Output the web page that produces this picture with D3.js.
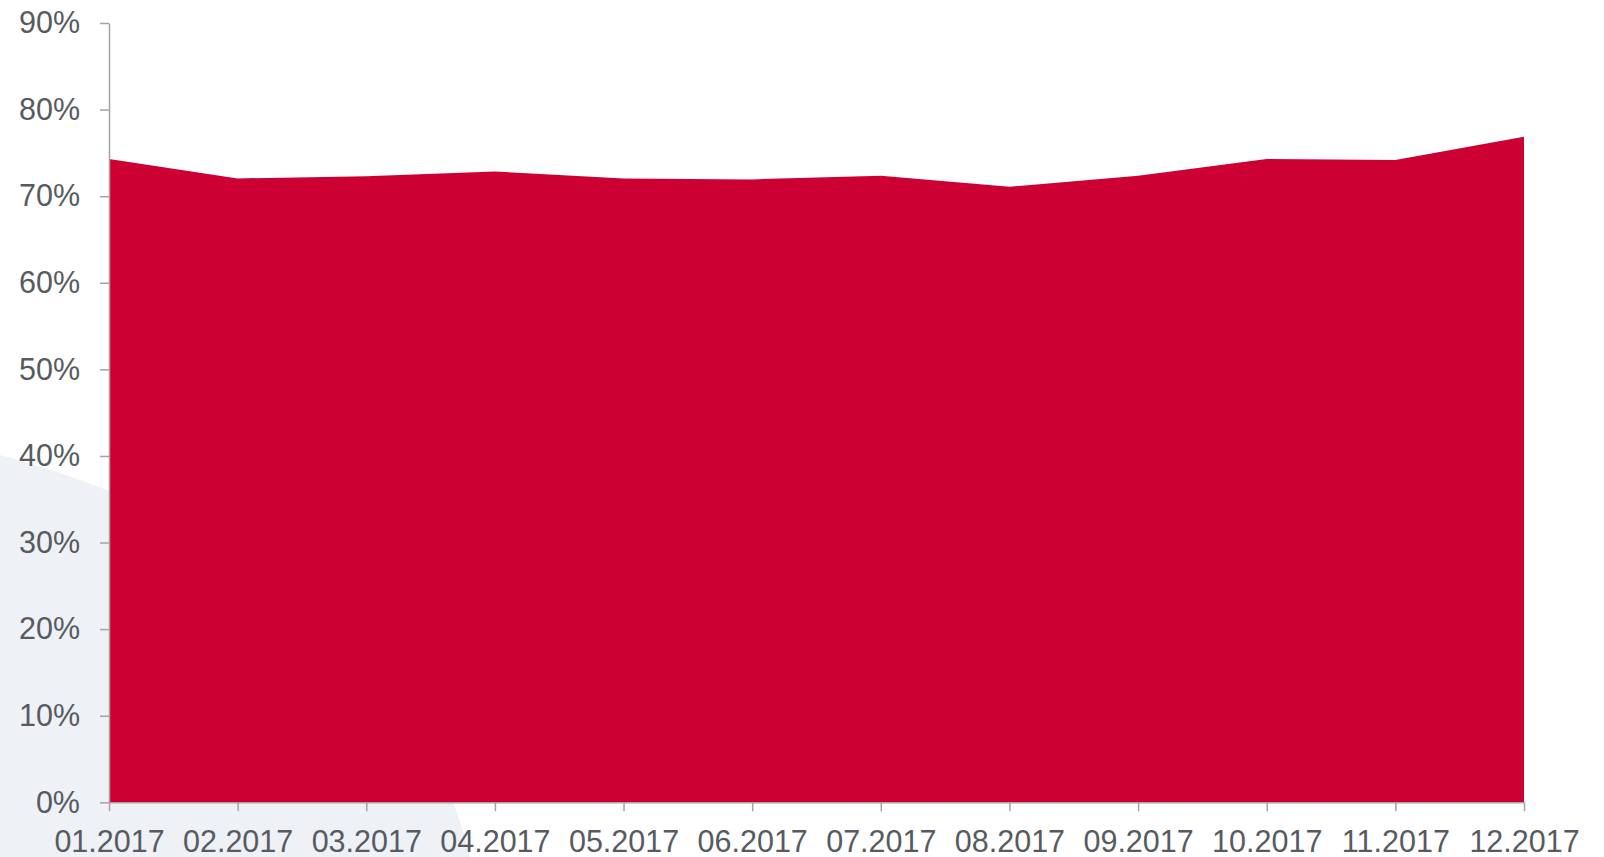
<!DOCTYPE html>
<html>
<head>
<meta charset="utf-8">
<script src="https://cdn.jsdelivr.net/npm/d3@7"></script>
<style>
  html, body { margin: 0; padding: 0; background: #fff; }
  svg { display: block; }
  .axis text { font-family: 'Liberation Sans', Arial, sans-serif; font-size: 30.5px; fill: #575b61; }
  .axis line, .axis path { stroke: #a3a3a3; stroke-width: 1.5px; }
</style>
</head>
<body>
<svg id="chart"></svg>
<script>
// data
var months = ['01.2017','02.2017','03.2017','04.2017','05.2017','06.2017','07.2017','08.2017','09.2017','10.2017','11.2017','12.2017'];
var share  = [0.743, 0.7205, 0.723, 0.7286, 0.7205, 0.7194, 0.7235, 0.7109, 0.7235, 0.743, 0.7417, 0.7686];
var yTicks = [0, 0.1, 0.2, 0.3, 0.4, 0.5, 0.6, 0.7, 0.8, 0.9];

// chart size
var W = 1604, H = 857;
var margin = { top: 23, right: 80, bottom: 54.7, left: 109 },
    width  = W - margin.left - margin.right,
    height = H - margin.top - margin.bottom;

var svg = d3.select('#chart')
    .attr('width', W)
    .attr('height', H);

// soft background shape, bottom left
svg.append('path')
    .attr('d', 'M0,455 C250,520 430,680 470,857 L0,857 Z')
    .attr('fill', '#eef2f6');

var g = svg.append('g')
    .attr('transform', 'translate(' + margin.left + ',' + margin.top + ')');

var x = d3.scalePoint()
    .domain(months)
    .range([0, width]);

var y = d3.scaleLinear()
    .domain([0, 0.9])
    .range([height, 0]);

// area
var area = d3.area()
    .x(function(d, i) { return x(months[i]); })
    .y0(height)
    .y1(function(d) { return y(d); });

g.append('path')
    .datum(share)
    .attr('d', area)
    .attr('fill', '#cc0033');

// y axis
g.append('g')
    .attr('class', 'axis y')
    .call(d3.axisLeft(y)
        .tickValues(yTicks)
        .tickSize(9)
        .tickSizeOuter(0)
        .tickPadding(20)
        .tickFormat(d3.format('.0%')));

// x axis
g.append('g')
    .attr('class', 'axis x')
    .attr('transform', 'translate(0,' + height + ')')
    .call(d3.axisBottom(x)
        .tickSize(9)
        .tickSizeOuter(0)
        .tickPadding(19));

g.selectAll('.axis path').attr('fill', 'none');
</script>
</body>
</html>
